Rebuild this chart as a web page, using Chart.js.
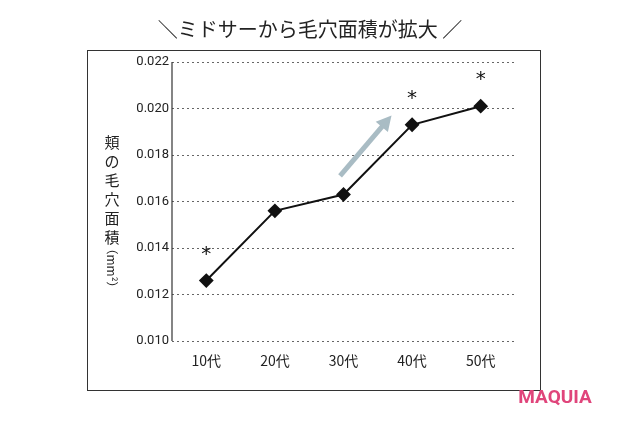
<!DOCTYPE html>
<html><head><meta charset="utf-8">
<script src="https://cdn.jsdelivr.net/npm/chart.js@4.4.0/dist/chart.umd.min.js"></script>
<style>html,body{margin:0;padding:0;background:#fff}#w{width:620px;height:430px}</style>
</head><body><div id="w"><canvas id="c"></canvas></div>
<script>
const categories=['10代','20代','30代','40代','50代'];
const values=[0.0126,0.0156,0.0163,0.0193,0.0201];
const starred=[true,false,false,true,true];
const yTitle='頬の毛穴面積';
const F='"Noto Sans CJK JP", sans-serif';
const deco={id:'deco',
beforeDraw(ch){const c=ch.ctx;c.save();c.strokeStyle='#333';c.lineWidth=1;c.strokeRect(87.5,50.5,453,340);
c.fillStyle='#222';c.font='20px '+F;c.textAlign='center';c.textBaseline='middle';
c.fillText('＼ミドサーから毛穴面積が拡大 ／',310,29);
c.font='15px '+F;for(let i=0;i<yTitle.length;i++)c.fillText(yTitle[i],112,142+i*19);
c.font='12px '+F;c.save();c.translate(112,268);c.rotate(Math.PI/2);c.fillText('（mm²）',0,0);c.restore();
c.font='bold 19px Roboto, sans-serif';c.fillStyle='#e0457b';c.textAlign='center';c.fillText('MAQUIA',555,398);
c.restore();},
afterDraw(ch){const c=ch.ctx,a=ch.chartArea;c.save();c.strokeStyle='#333';c.lineWidth=1.2;c.beginPath();c.moveTo(a.left,a.top);c.lineTo(a.left,a.bottom);c.stroke();c.restore();},
afterDatasetsDraw(ch){const c=ch.ctx,x=ch.scales.x,y=ch.scales.y;c.save();
c.fillStyle='#111';c.font='20px "DejaVu Sans", sans-serif';c.textAlign='center';c.textBaseline='middle';
values.forEach((v,i)=>{if(starred[i])c.fillText('*',x.getPixelForValue(i),y.getPixelForValue(v)-26);});
const x1=(x.getPixelForValue(1.9)+x.getPixelForValue(2))/2,y1=y.getPixelForValue(0.0171),x2=x.getPixelForValue(2.7),y2=y.getPixelForValue(0.0197);
c.strokeStyle='#a9bcc4';c.fillStyle='#a9bcc4';c.lineWidth=5;c.beginPath();c.moveTo(x1,y1);
const a=Math.atan2(y2-y1,x2-x1);c.lineTo(x2-10*Math.cos(a),y2-10*Math.sin(a));c.stroke();
c.beginPath();c.moveTo(x2,y2);c.lineTo(x2-15*Math.cos(a)+8*Math.sin(a),y2-15*Math.sin(a)-8*Math.cos(a));
c.lineTo(x2-15*Math.cos(a)-8*Math.sin(a),y2-15*Math.sin(a)+8*Math.cos(a));c.closePath();c.fill();
c.restore();}};
new Chart(document.getElementById('c'),{type:'line',
data:{labels:categories,datasets:[{data:values,borderColor:'#111',borderWidth:2,pointStyle:'rectRot',pointRadius:6,pointBackgroundColor:'#111',pointBorderColor:'#111',tension:0}]},
options:{responsive:true,maintainAspectRatio:false,animation:false,
layout:{padding:{left:132,right:105,top:62,bottom:59}},
plugins:{legend:{display:false},tooltip:{enabled:false}},
scales:{
y:{min:0.010,max:0.022,afterFit:s=>{s.width=40},ticks:{stepSize:0.002,callback:v=>v.toFixed(3),color:'#222',font:{family:'Roboto',size:13}},
grid:{color:'#666',drawTicks:false},border:{display:false,dash:[2,3]}},
x:{offset:true,afterFit:s=>{s.height=30},ticks:{color:'#222',font:{family:F,size:14}},grid:{display:false},border:{display:false}}
}},plugins:[deco]});
</script></body></html>
